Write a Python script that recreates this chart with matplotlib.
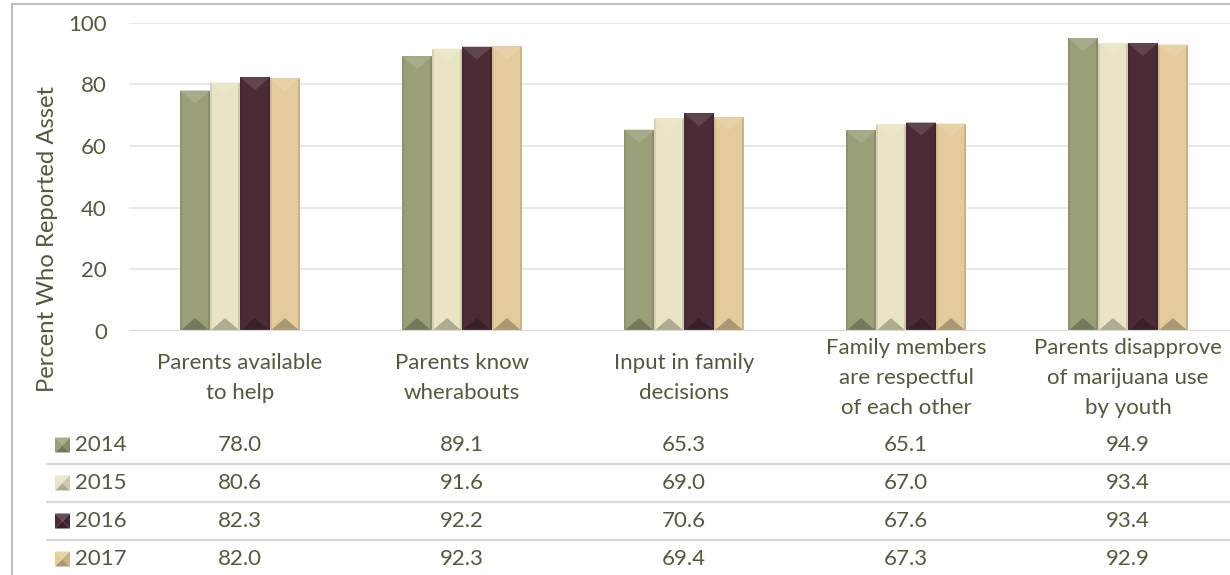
import numpy as np
import matplotlib
matplotlib.use("Agg")
import matplotlib.pyplot as plt
from matplotlib import transforms
from matplotlib.patches import Polygon, Rectangle
from matplotlib.lines import Line2D
from matplotlib.colors import to_rgb

# ── data ────────────────────────────────────────────────
categories = [
    "Parents available\nto help",
    "Parents know\nwherabouts",
    "Input in family\ndecisions",
    "Family members\nare respectful\nof each other",
    "Parents disapprove\nof marijuana use\nby youth",
]
years = ["2014", "2015", "2016", "2017"]
v2014 = [78.0, 89.1, 65.3, 65.1, 94.9]
v2015 = [80.6, 91.6, 69.0, 67.0, 93.4]
v2016 = [82.3, 92.2, 70.6, 67.6, 93.4]
v2017 = [82.0, 92.3, 69.4, 67.3, 92.9]
series = [v2014, v2015, v2016, v2017]
yticks = [0, 20, 40, 60, 80, 100]

# ── style ───────────────────────────────────────────────
colors = ["#9C9E79", "#E9E4C3", "#4A2B36", "#E3CB9C"]
TXT = "#56573F"
GRID = "#E4E4E4"
LINE = "#D9D9D9"
FONT = "Lato"
FS = 16
W, H = 1230, 575
BAR_W = 0.135
BEVEL = 4.2  # data units


def shade(c, f):
    r, g, b = to_rgb(c)
    if f > 0:
        return (r + (1 - r) * f, g + (1 - g) * f, b + (1 - b) * f)
    return (r * (1 + f), g * (1 + f), b * (1 + f))


def fy(px):
    return 1 - px / H


def fx(px):
    return px / W


plt.rcParams["font.family"] = [FONT, "DejaVu Sans"]

fig = plt.figure(figsize=(W / 100, H / 100), dpi=100)
ax = fig.add_axes([fx(129), fy(331), 1110 / W, 308.3 / H])

x = np.arange(len(categories))
offsets = (np.arange(len(years)) - 1.5) * BAR_W
for vals, off, col in zip(series, offsets, colors):
    bars = ax.bar(x + off, vals, BAR_W, color=col, zorder=3, linewidth=0)
    for r in bars:
        x0, w, h = r.get_x(), r.get_width(), r.get_height()
        # side strips
        ax.add_patch(Rectangle((x0, 0), w * 0.08, h, color=shade(col, -0.08),
                               lw=0, zorder=4))
        ax.add_patch(Rectangle((x0 + w * 0.92, 0), w * 0.08, h,
                               color=shade(col, -0.12), lw=0, zorder=4))
        # top / bottom bevel
        ax.add_patch(Polygon([(x0, h), (x0 + w, h), (x0 + w / 2, h - BEVEL)],
                             closed=True, color=shade(col, 0.12), lw=0, zorder=5))
        ax.add_patch(Polygon([(x0, 0), (x0 + w, 0), (x0 + w / 2, BEVEL)],
                             closed=True, color=shade(col, -0.25), lw=0, zorder=5))

ax.set_xlim(-0.5, len(categories) - 0.5)
ax.set_ylim(0, 100)
ax.set_yticks(yticks)
ax.set_yticklabels([str(t) for t in yticks], fontsize=FS, color=TXT)
ax.set_xticks([])
ax.tick_params(axis="y", length=0, pad=16)
ax.grid(axis="y", color=GRID, lw=1.2, zorder=0)
ax.set_axisbelow(True)
for s in ax.spines.values():
    s.set_visible(False)
ax.axhline(0, color=LINE, lw=1.6, zorder=6)

fig.text(fx(48), fy(239), "Percent Who Reported Asset", rotation=90,
         ha="center", va="center", fontsize=17.2, color=TXT)

# data table under the chart
trans = transforms.blended_transform_factory(ax.transData, fig.transFigure)
for i, cat in enumerate(categories):
    fig.text(x[i], fy(378), cat, transform=trans, ha="center", va="center",
             ma="center", fontsize=FS, color=TXT, linespacing=1.62)

row_y = [445, 483, 521, 559]
for yr, vals, col, ry in zip(years, series, colors, row_y):
    # legend key (small pyramid)
    kx0, kx1 = fx(55), fx(70)
    ky0, ky1 = fy(ry + 7.5), fy(ry - 7.5)
    cx, cy = (kx0 + kx1) / 2, (ky0 + ky1) / 2
    tris = [
        ([(kx0, ky1), (kx1, ky1), (cx, cy)], 0.15),
        ([(kx0, ky0), (kx1, ky0), (cx, cy)], -0.25),
        ([(kx0, ky0), (kx0, ky1), (cx, cy)], 0.0),
        ([(kx1, ky0), (kx1, ky1), (cx, cy)], -0.12),
    ]
    for pts, f in tris:
        fig.patches.append(Polygon(pts, closed=True, color=shade(col, f), lw=0,
                                   transform=fig.transFigure, figure=fig))
    fig.text(fx(75), fy(ry), yr, ha="left", va="center", fontsize=FS, color=TXT)
    for i, v in enumerate(vals):
        fig.text(x[i], fy(ry), f"{v:.1f}", transform=trans, ha="center",
                 va="center", fontsize=FS, color=TXT)

for sy in [464, 502, 540]:
    fig.lines.append(Line2D([fx(47), 1], [fy(sy), fy(sy)], color=LINE, lw=1.6,
                            transform=fig.transFigure, figure=fig))

# chart frame (left and top edges visible)
fig.lines.append(Line2D([fx(11.5), fx(11.5)], [0, fy(4)], color="#BFBFBF",
                        lw=1.5, transform=fig.transFigure, figure=fig))
fig.lines.append(Line2D([fx(11.5), 1], [fy(4), fy(4)], color="#BFBFBF",
                        lw=1.5, transform=fig.transFigure, figure=fig))

fig.savefig("out.png", dpi=100)
